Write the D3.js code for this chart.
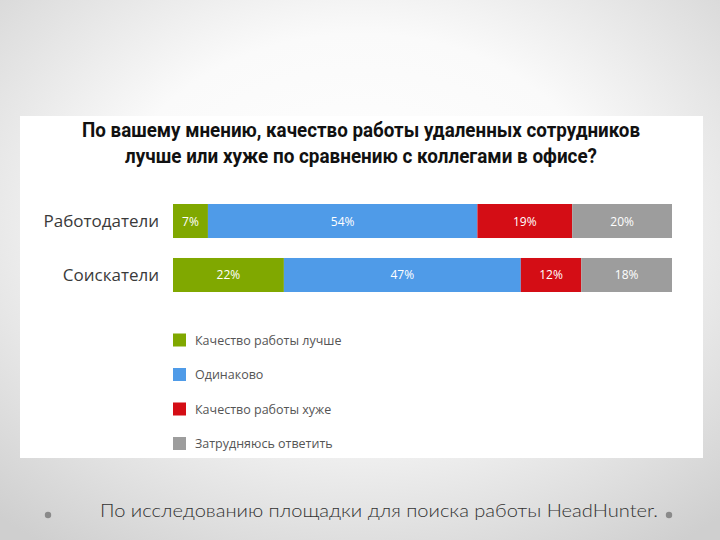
<!DOCTYPE html>
<html>
<head>
<meta charset="utf-8">
<script src="https://cdn.jsdelivr.net/npm/d3@7"></script>
<style>
html,body{margin:0;padding:0;}
body{width:720px;height:540px;overflow:hidden;}
</style>
</head>
<body>
<svg id="chart" width="720" height="540"></svg>
<script>
const titleLines = ["По вашему мнению, качество работы удаленных сотрудников", "лучше или хуже по сравнению с коллегами в офисе?"];
const categories = ["Работодатели", "Соискатели"];
const seriesNames = ["Качество работы лучше", "Одинаково", "Качество работы хуже", "Затрудняюсь ответить"];
const seriesKeys = ["better", "same", "worse", "unsure"];
const better = [7, 22];
const same = [54, 47];
const worse = [19, 12];
const unsure = [20, 18];
const colors = ["#80a800", "#4f9be8", "#d40d15", "#9d9d9d"];
const footerText = "По исследованию площадки для поиска работы HeadHunter.";

const rows = categories.map((c, i) => ({cat: c, better: better[i], same: same[i], worse: worse[i], unsure: unsure[i]}));

const svg = d3.select("#chart");
const defs = svg.append("defs");
const grad = defs.append("radialGradient").attr("id", "bg")
  .attr("cx", "50%").attr("cy", "40%").attr("r", "75%");
grad.append("stop").attr("offset", "0%").attr("stop-color", "#ffffff");
grad.append("stop").attr("offset", "45%").attr("stop-color", "#fafafa");
grad.append("stop").attr("offset", "100%").attr("stop-color", "#cfcfcf");
svg.append("rect").attr("width", 720).attr("height", 540).attr("fill", "url(#bg)");

// white panel
svg.append("rect").attr("x", 20).attr("y", 116).attr("width", 683).attr("height", 342).attr("fill", "#ffffff");

// title
const titleFont = "'Liberation Sans Narrow', 'Roboto', 'Liberation Sans', sans-serif";
const titleWidths = [558, 472];
svg.selectAll("text.title").data(titleLines).join("text")
  .attr("class", "title")
  .attr("x", 361).attr("y", (d, i) => 137 + i * 26)
  .attr("text-anchor", "middle")
  .attr("font-family", titleFont).attr("font-weight", "bold").attr("font-size", 19.5)
  .attr("fill", "#111")
  .attr("textLength", (d, i) => titleWidths[i]).attr("lengthAdjust", "spacingAndGlyphs")
  .text(d => d);

// scales
const x = d3.scaleLinear().domain([0, 1]).range([173, 672]);
const y = d3.scaleBand().domain(categories).range([204, 292]).paddingInner(0.37);
const color = d3.scaleOrdinal().domain(seriesKeys).range(colors);

const stack = d3.stack().keys(seriesKeys).offset(d3.stackOffsetExpand);
const series = stack(rows);

const bodyFont = "'Open Sans', 'Lato', 'Noto Sans', sans-serif";

const g = svg.append("g");
const layers = g.selectAll("g.layer").data(series).join("g")
  .attr("class", "layer").attr("fill", d => color(d.key));
layers.selectAll("rect").data(d => d.map(p => ({p, key: d.key}))).join("rect")
  .attr("x", d => x(d.p[0]))
  .attr("y", d => y(d.p.data.cat))
  .attr("width", d => x(d.p[1]) - x(d.p[0]))
  .attr("height", y.bandwidth());

layers.selectAll("text").data(d => d.map(p => ({p, key: d.key}))).join("text")
  .attr("x", d => (x(d.p[0]) + x(d.p[1])) / 2)
  .attr("y", d => y(d.p.data.cat) + y.bandwidth() / 2 + 4.5)
  .attr("text-anchor", "middle")
  .attr("font-family", bodyFont).attr("font-size", 12)
  .attr("fill", "#ffffff")
  .text(d => d.p.data[d.key] + "%");

// category labels
svg.selectAll("text.cat").data(categories).join("text")
  .attr("class", "cat")
  .attr("x", 159).attr("y", d => y(d) + y.bandwidth() / 2 + 6)
  .attr("text-anchor", "end")
  .attr("font-family", bodyFont).attr("font-size", 17)
  .attr("fill", "#3a3a3a")
  .text(d => d);

// legend
const ly = d3.scalePoint().domain(seriesNames).range([340, 443.5]);
const leg = svg.selectAll("g.leg").data(seriesNames).join("g").attr("class", "leg")
  .attr("transform", d => `translate(173,${ly(d)})`);
leg.append("rect").attr("x", 0).attr("y", -6.5).attr("width", 13).attr("height", 13)
  .attr("fill", (d, i) => colors[i]);
leg.append("text").attr("x", 22).attr("y", 4.5)
  .attr("font-family", bodyFont).attr("font-size", 12.5)
  .attr("fill", "#555")
  .text(d => d);

// footer
svg.append("circle").attr("cx", 48).attr("cy", 515).attr("r", 3.2).attr("fill", "#8a8a8a");
svg.append("circle").attr("cx", 669).attr("cy", 515).attr("r", 3.2).attr("fill", "#8a8a8a");
svg.append("text").attr("x", 100).attr("y", 517)
  .attr("font-family", "'Lato', 'DejaVu Sans', sans-serif").attr("font-weight", 300).attr("font-size", 17)
  .attr("fill", "#333")
  .attr("textLength", 558).attr("lengthAdjust", "spacingAndGlyphs")
  .text(footerText);
</script>
</body>
</html>
